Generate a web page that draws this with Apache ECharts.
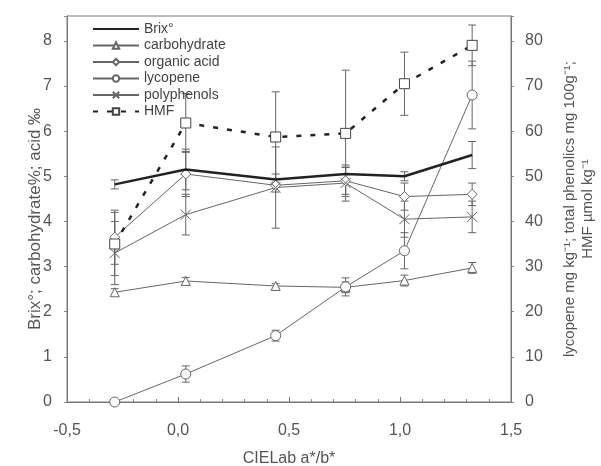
<!DOCTYPE html>
<html>
<head>
<meta charset="utf-8">
<script src="https://cdn.jsdelivr.net/npm/echarts@6/dist/echarts.min.js"></script>
<style>
  html, body { margin: 0; padding: 0; background: #fff; }
  #chart { width: 601px; height: 466px; }
</style>
</head>
<body>
<div id="chart"></div>
<script>
// CIELab a*/b* of the six samples
const xs = [-0.285, 0.035, 0.44, 0.755, 1.02, 1.325];

// left axis (Brix°, carbohydrate %, acid ‰)
const brix = [4.82, 5.15, 4.93, 5.05, 5.0, 5.47];
const brixErr = [0.1, 0.45, 0.12, 0.15, 0.1, 0.3];
const carbohydrate = [2.43, 2.68, 2.57, 2.54, 2.69, 2.97];
const carbohydrateErr = [0.08, 0.08, 0.05, 0.12, 0.12, 0.12];
const organicAcid = [3.65, 5.05, 4.8, 4.9, 4.55, 4.6];
const organicAcidErr = [0.6, 0.5, 0.15, 0.3, 0.3, 0.25];

// right axis (mg kg-1, mg 100g-1, µmol kg-1)
const lycopene = [0, 6.2, 14.7, 25.5, 33.5, 68];
const lycopeneErr = [0.3, 1.8, 1.2, 2, 4, 7.5];
const polyphenols = [33, 41.5, 47.5, 48.5, 40.5, 41];
const polyphenolsErr = [7, 4.5, 9, 4, 4, 3.5];
const hmf = [35, 61.8, 58.7, 59.5, 70.5, 79];
const hmfErr = [7, 6.5, 10, 14, 7, 4.5];

const names = ['Brix°', 'carbohydrate', 'organic acid', 'lycopene', 'polyphenols', 'HMF'];

const textColor = '#555';
const lineGray = '#666';
const font = 'Liberation Sans';

const pts = vals => xs.map((x, i) => [x, vals[i]]);
const bars = (vals, errs) => xs.map((x, i) => [x, vals[i] - errs[i], vals[i] + errs[i]]);

function errorSeries(vals, errs, axisIndex, color) {
  return {
    type: 'custom',
    yAxisIndex: axisIndex,
    silent: true,
    z: 1,
    data: bars(vals, errs),
    renderItem: (params, api) => {
      const lo = api.coord([api.value(0), api.value(1)]);
      const hi = api.coord([api.value(0), api.value(2)]);
      const w = 4;
      const style = { stroke: color, lineWidth: 1 };
      return {
        type: 'group',
        children: [
          { type: 'line', shape: { x1: lo[0], y1: lo[1], x2: hi[0], y2: hi[1] }, style },
          { type: 'line', shape: { x1: lo[0] - w, y1: lo[1], x2: lo[0] + w, y2: lo[1] }, style },
          { type: 'line', shape: { x1: hi[0] - w, y1: hi[1], x2: hi[0] + w, y2: hi[1] }, style }
        ]
      };
    }
  };
}

function lineSeries(name, vals, axisIndex, opts) {
  return Object.assign({
    name,
    type: 'line',
    yAxisIndex: axisIndex,
    data: pts(vals),
    symbolSize: 9,
    z: 3,
    lineStyle: { color: lineGray, width: 1 },
    itemStyle: { color: '#fff', borderColor: lineGray, borderWidth: 1 }
  }, opts);
}

const chart = echarts.init(document.getElementById('chart'));

const option = {
  backgroundColor: '#fff',
  animation: false,
  textStyle: { fontFamily: font },
  grid: {
    left: 67, right: 90, top: 16, bottom: 64,
    outerBoundsMode: 'none',
    show: true, borderColor: '#777', borderWidth: 1
  },
  legend: {
    data: names.map(n => (n === 'Brix°' ? { name: n, itemStyle: { opacity: 0 } } : n)),
    orient: 'vertical',
    left: 87,
    top: 17,
    itemWidth: 46,
    itemHeight: 8,
    itemGap: 2.5,
    textStyle: { color: '#444', fontSize: 14, fontFamily: font }
  },
  xAxis: {
    type: 'value',
    min: -0.5,
    max: 1.5,
    interval: 0.5,
    name: 'CIELab a*/b*',
    nameLocation: 'middle',
    nameGap: 49,
    nameTextStyle: { color: textColor, fontSize: 16 },
    axisLine: { onZero: false, lineStyle: { color: '#777' } },
    axisTick: { inside: true, length: 5, lineStyle: { color: '#777' } },
    minorTick: { show: true, splitNumber: 5, length: 3, lineStyle: { color: '#888' } },
    axisLabel: { color: textColor, fontSize: 16, margin: 21, formatter: v => v.toFixed(1).replace('.', ',') },
    splitLine: { show: false }
  },
  yAxis: [
    {
      type: 'value',
      min: 0,
      max: 8.55,
      interval: 1,
      name: 'Brix°; carbohydrate%; acid ‰',
      nameLocation: 'middle',
      nameMoveOverlap: false,
      nameGap: 23,
      nameTextStyle: { color: textColor, fontSize: 17, padding: [0, 20, 0, 0] },
      axisLine: { show: true, onZero: false, lineStyle: { color: '#777' } },
      axisTick: { length: 3, lineStyle: { color: '#888' } },
      axisLabel: { color: textColor, fontSize: 16, margin: 15, formatter: v => (Number.isInteger(v) ? String(v) : '') },
      splitLine: { show: false }
    },
    {
      type: 'value',
      min: 0,
      max: 85.5,
      interval: 10,
      position: 'right',
      name: 'lycopene mg kg⁻¹; total phenolics mg 100g⁻¹;\nHMF µmol kg⁻¹',
      nameLocation: 'middle',
      nameRotate: 90,
      nameGap: 50,
      nameTextStyle: { color: textColor, fontSize: 15, lineHeight: 18 },
      axisLine: { show: true, onZero: false, lineStyle: { color: '#777' } },
      axisTick: { length: 3, lineStyle: { color: '#888' } },
      axisLabel: { color: textColor, fontSize: 16, margin: 14, formatter: v => (v % 10 === 0 ? String(v) : '') },
      splitLine: { show: false }
    }
  ],
  series: [
    errorSeries(brix, brixErr, 0, lineGray),
    errorSeries(carbohydrate, carbohydrateErr, 0, lineGray),
    errorSeries(organicAcid, organicAcidErr, 0, lineGray),
    errorSeries(lycopene, lycopeneErr, 1, lineGray),
    errorSeries(polyphenols, polyphenolsErr, 1, lineGray),
    errorSeries(hmf, hmfErr, 1, lineGray),
    lineSeries('Brix°', brix, 0, {
      symbol: 'none',
      z: 4,
      lineStyle: { color: '#222', width: 2.5 },
      itemStyle: { color: '#222' }
    }),
    lineSeries('carbohydrate', carbohydrate, 0, { symbol: 'triangle' }),
    lineSeries('organic acid', organicAcid, 0, { symbol: 'diamond', symbolSize: 10 }),
    lineSeries('lycopene', lycopene, 1, { symbol: 'circle', symbolSize: 10 }),
    lineSeries('polyphenols', polyphenols, 1, {
      symbol: 'path://M0,0L10,10M10,0L0,10',
      symbolSize: 10,
      itemStyle: { color: 'none', borderColor: lineGray, borderWidth: 1 }
    }),
    lineSeries('HMF', hmf, 1, {
      symbol: 'rect',
      symbolSize: 10,
      lineStyle: { color: '#222', width: 2.5, type: [5, 9] },
      itemStyle: { color: '#fff', borderColor: '#444', borderWidth: 1 }
    })
  ]
};

chart.setOption(option);
</script>
</body>
</html>
